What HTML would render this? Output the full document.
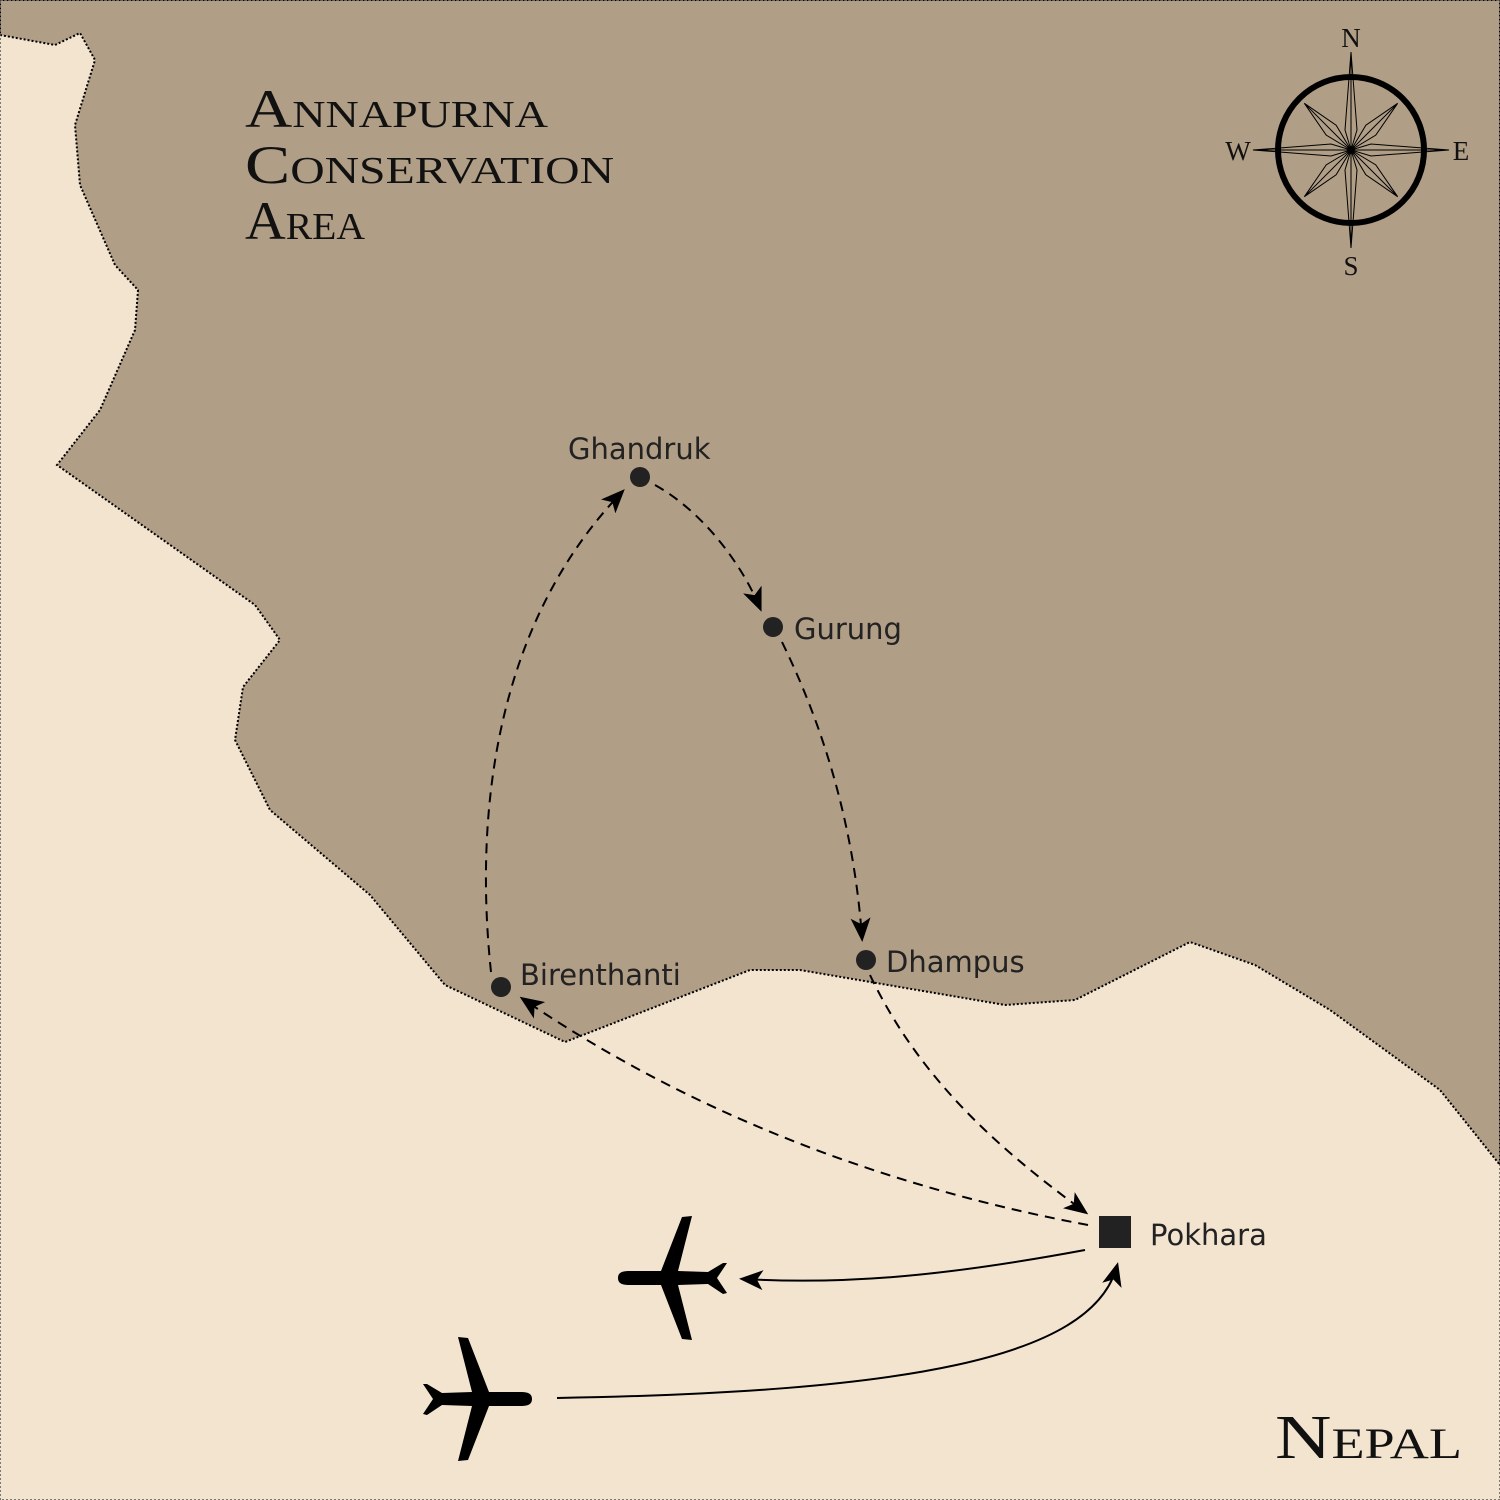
<!DOCTYPE html>
<html><head><meta charset="utf-8"><style>
html,body{margin:0;padding:0;background:#f3e4d0}
svg{display:block}
.lbl{font-family:"DejaVu Sans","Liberation Sans",sans-serif;font-size:29px;fill:#222}
.ttl{font-family:"Liberation Serif",serif;font-variant:small-caps;fill:#111}
</style></head><body>
<svg width="1500" height="1500" viewBox="0 0 1500 1500" xmlns="http://www.w3.org/2000/svg">
<defs>
<marker id="ah" markerWidth="24" markerHeight="20" refX="20" refY="10" orient="auto" markerUnits="userSpaceOnUse">
<path d="M0,0 L24,10 L0,20 L6,10 Z" fill="#000"/>
</marker>
<g id="plane"><path d="M57,0 C57,-7 50,-7 44,-7 L14,-7 L-7,-61 L-17,-62 L-3,-7 L-33,-6 L-48,-15 L-52,-15 L-42,0 L-52,15 L-48,16 L-33,6 L-3,7 L-17,62 L-7,61 L14,7 L44,7 C50,7 57,7 57,0Z" fill="#000"/></g>
</defs>
<rect width="1500" height="1500" fill="#f3e4d0"/>
<path d="M0,35 L55,45 L80,33 L95,60 L75,125 L80,185 L115,265 L138,290 L135,330 L100,410 L57,465 L255,605 L280,640 L243,687 L235,740 L270,810 L370,895 L445,985 L565,1042 L750,970 L800,970 L1005,1005 L1075,1000 L1190,942 L1255,965 L1330,1010 L1440,1090 L1500,1165 L1500,0 L0,0 Z" fill="#b09e86" stroke="#000" stroke-width="2" stroke-dasharray="2,2"/>
<rect x="0" y="0" width="1500" height="1500" fill="none" stroke="#555" stroke-width="1.5" stroke-dasharray="2,2"/>

<text class="ttl" x="245" y="127" font-size="54" textLength="303" lengthAdjust="spacingAndGlyphs">Annapurna</text>
<text class="ttl" x="245" y="183" font-size="54" textLength="369" lengthAdjust="spacingAndGlyphs">Conservation</text>
<text class="ttl" x="245" y="239" font-size="54" textLength="120" lengthAdjust="spacingAndGlyphs">Area</text>
<text class="ttl" x="1275" y="1458" font-size="62" textLength="187" lengthAdjust="spacingAndGlyphs">Nepal</text>

<!-- compass -->
<g transform="translate(1351,150)" stroke="#000" fill="none" stroke-width="1">
<path d="M0,-98 L6,-20 L0,0 L-6,-20 Z M0,98 L6,20 L0,0 L-6,20 Z M98,0 L20,6 L0,0 L20,-6 Z M-98,0 L-20,6 L0,0 L-20,-6 Z"/>
<path d="M0,-98 L0,98 M-98,0 L98,0"/>
<g transform="rotate(45)"><path d="M0,-66 L7,-28 L0,0 L-7,-28 Z M0,66 L7,28 L0,0 L-7,28 Z M66,0 L28,7 L0,0 L28,-7 Z M-66,0 L-28,7 L0,0 L-28,-7 Z M0,-66 L0,66 M-66,0 L66,0"/></g>
<circle r="73" stroke-width="6"/>
</g>
<g class="ttl" font-size="27" text-anchor="middle" style="font-variant:normal">
<text x="1351" y="47">N</text><text x="1351" y="275">S</text>
<text x="1238" y="160">W</text><text x="1461" y="160">E</text>
</g>

<g fill="none" stroke="#000" stroke-width="2" stroke-dasharray="10,7">
<path d="M491,972 C478,850 480,640 622,492" marker-end="url(#ah)"/>
<path d="M655,485 C700,510 740,560 760,608" marker-end="url(#ah)"/>
<path d="M782,642 C830,740 855,840 862,938" marker-end="url(#ah)"/>
<path d="M870,975 C920,1080 1000,1150 1085,1212" marker-end="url(#ah)"/>
<path d="M1088,1225 C900,1190 700,1120 523,999" marker-end="url(#ah)"/>
</g>
<g fill="none" stroke="#000" stroke-width="2">
<path d="M1085,1250 C950,1275 850,1285 743,1279" marker-end="url(#ah)"/>
<path d="M557,1398 C900,1392 1092,1360 1117,1266" marker-end="url(#ah)"/>
</g>

<g fill="#222">
<circle cx="640" cy="477" r="10"/>
<circle cx="773" cy="627" r="10"/>
<circle cx="866" cy="960" r="10"/>
<circle cx="501" cy="987" r="10"/>
<rect x="1099" y="1216" width="32" height="32"/>
</g>
<text class="lbl" x="568" y="459">Ghandruk</text>
<text class="lbl" x="794" y="639">Gurung</text>
<text class="lbl" x="886" y="972">Dhampus</text>
<text class="lbl" x="520" y="985">Birenthanti</text>
<text class="lbl" x="1150" y="1245">Pokhara</text>

<use href="#plane" transform="translate(475,1399)"/>
<use href="#plane" transform="translate(675,1278) scale(-1,1)"/>
</svg>
</body></html>
